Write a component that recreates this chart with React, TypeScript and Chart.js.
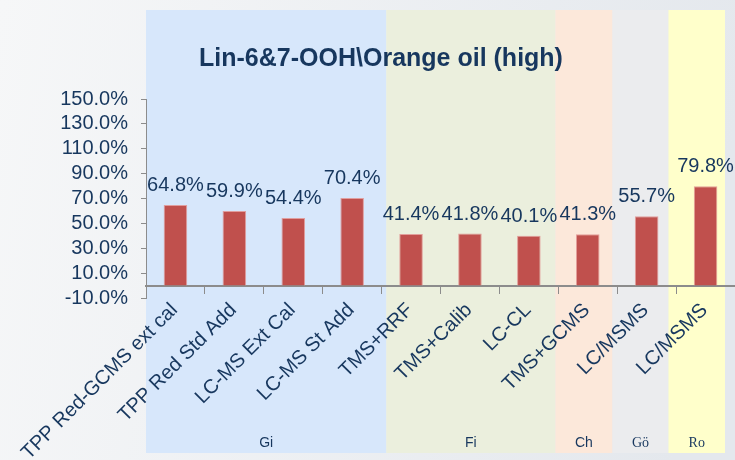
import React, { useEffect, useRef } from "react";
import { Chart, registerables } from "chart.js";

Chart.register(...registerables);

const categories = [
  "TPP Red-GCMS ext cal",
  "TPP Red Std Add",
  "LC-MS Ext Cal",
  "LC-MS St Add",
  "TMS+RRF",
  "TMS+Calib",
  "LC-CL",
  "TMS+GCMS",
  "LC/MSMS",
  "LC/MSMS",
];
const recoveries = [64.8, 59.9, 54.4, 70.4, 41.4, 41.8, 40.1, 41.3, 55.7, 79.8];
const yTicks = [-10, 10, 30, 50, 70, 90, 110, 130, 150];
const groupNames = ["Gi", "Fi", "Ch", "Gö", "Ro"];
// band edges in category units (index space)
const groupEdges = [-0.5, 3.58, 6.45, 7.42, 8.37, 9.33];
const groupColors = ["#D7E7FB", "#EBEFDD", "#FCE8DA", "#EBECEE", "#FFFFCB"];
const groupSerif = [false, false, false, true, true];
const titleText = "Lin-6&7-OOH\\Orange oil (high)";

const NAVY = "#17375E";
const SANS = "'Liberation Sans', Arial, sans-serif";
const SERIF = "'Liberation Serif', 'Times New Roman', serif";

const decorPlugin = {
  id: "decor",
  beforeDraw(chart: any) {
    const { ctx, width, height } = chart;
    const x = chart.scales.x;
    ctx.save();
    const g = ctx.createLinearGradient(0, 0, width, height * 0.3);
    g.addColorStop(0, "#F6F7F8");
    g.addColorStop(1, "#E4E8ED");
    ctx.fillStyle = g;
    ctx.fillRect(0, 0, width, height);
    for (let i = 0; i < groupNames.length; i++) {
      const x0 = x.getPixelForValue(groupEdges[i]);
      const x1 = x.getPixelForValue(groupEdges[i + 1]);
      ctx.fillStyle = groupColors[i];
      ctx.fillRect(x0, 10, x1 - x0, 443);
    }
    ctx.restore();
  },
  afterDraw(chart: any) {
    const { ctx } = chart;
    const x = chart.scales.x;
    ctx.save();
    ctx.fillStyle = NAVY;
    ctx.textAlign = "center";
    ctx.textBaseline = "middle";
    for (let i = 0; i < groupNames.length; i++) {
      const x0 = x.getPixelForValue(groupEdges[i]);
      const x1 = x.getPixelForValue(groupEdges[i + 1]);
      ctx.font = `14px ${groupSerif[i] ? SERIF : SANS}`;
      ctx.fillText(groupNames[i], (x0 + x1) / 2, 443);
    }
    ctx.font = `bold 25px ${SANS}`;
    ctx.fillText(titleText, 381, 59);
    // value labels
    const meta = chart.getDatasetMeta(0);
    ctx.font = `20px ${SANS}`;
    ctx.textBaseline = "alphabetic";
    meta.data.forEach((bar: any, i: number) => {
      ctx.fillText(recoveries[i].toFixed(1) + "%", bar.x, bar.y - 14);
    });
    ctx.restore();
  },
};

export default function App() {
  const ref = useRef<HTMLCanvasElement | null>(null);
  useEffect(() => {
    document.body.style.margin = "0";
    const chart = new Chart(ref.current as HTMLCanvasElement, {
      type: "bar",
      data: {
        labels: categories,
        datasets: [
          {
            data: recoveries,
            backgroundColor: "#C0504D",
            borderColor: "rgba(225,150,148,0.9)",
            borderWidth: 1,
            barPercentage: 0.4,
            categoryPercentage: 1,
          },
        ],
      },
      options: {
        responsive: false,
        animation: false,
        layout: { padding: { top: 99, bottom: 162, left: 0, right: 0 } },
        plugins: { legend: { display: false }, tooltip: { enabled: false }, title: { display: false } },
        scales: {
          x: {
            position: { y: 0 } as any,
            afterFit: (s: any) => {
              s.paddingLeft = 0;
              s.paddingRight = 0;
            },
            grid: {
              offset: true,
              drawOnChartArea: false,
              drawTicks: true,
              tickLength: 7,
              color: "#8C8C8C",
              lineWidth: 1,
            },
            border: { color: "#8C8C8C", width: 2 },
            ticks: {
              autoSkip: false,
              minRotation: 45,
              maxRotation: 45,
              padding: 6,
              labelOffset: -1,
              color: NAVY,
              font: { family: SANS, size: 20 },
            },
          },
          y: {
            min: -10,
            max: 150,
            afterFit: (s: any) => {
              s.width = 146;
            },
            afterBuildTicks: (s: any) => {
              s.ticks = yTicks.map((v) => ({ value: v }));
            },
            grid: {
              drawOnChartArea: false,
              drawTicks: true,
              tickLength: 5,
              color: "#8C8C8C",
            },
            border: { color: "#8C8C8C", width: 1 },
            ticks: {
              autoSkip: false,
              padding: 13,
              color: NAVY,
              font: { family: SANS, size: 20 },
              callback: (v: any) => Number(v).toFixed(1) + "%",
            },
          },
        },
      },
      plugins: [decorPlugin],
    });
    return () => chart.destroy();
  }, []);
  return (
    <div style={{ width: 735, height: 460 }}>
      <canvas ref={ref} width={735} height={460} />
    </div>
  );
}
